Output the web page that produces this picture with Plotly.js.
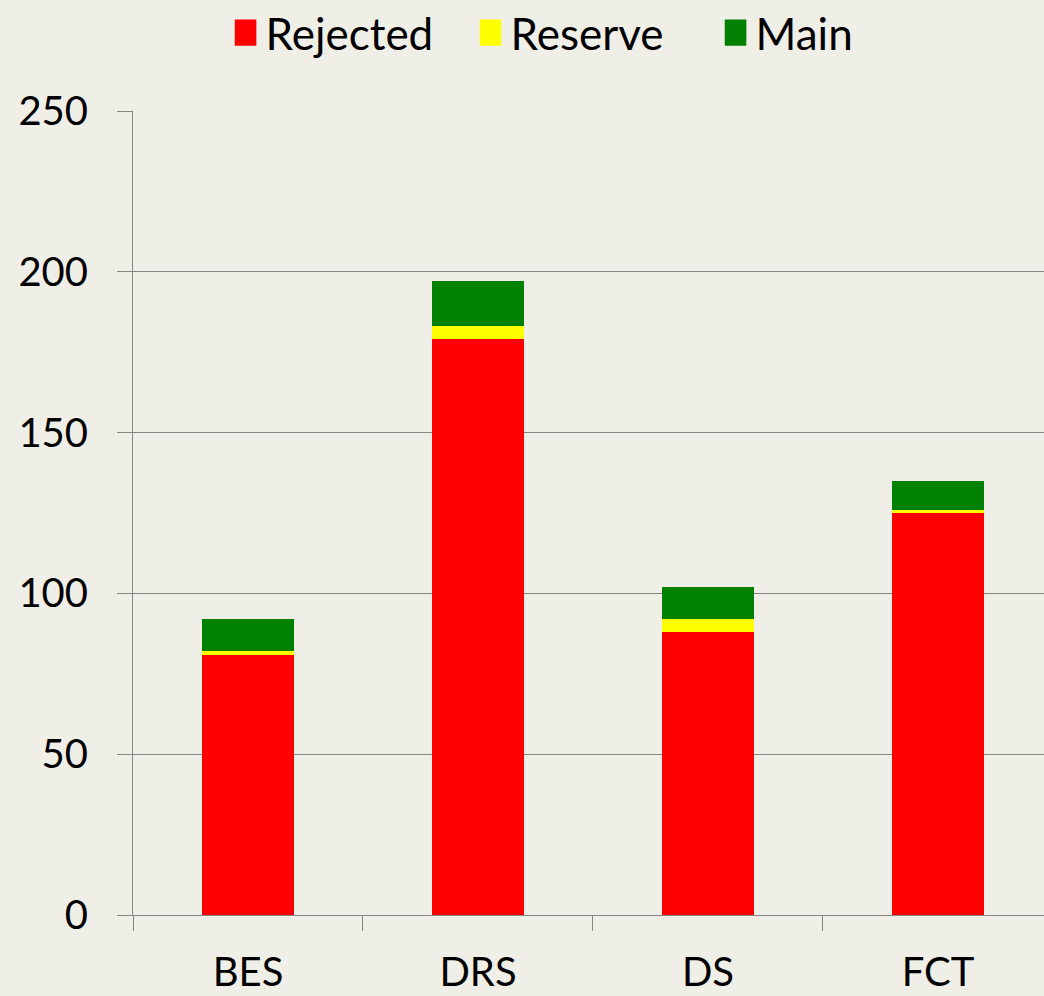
<!DOCTYPE html>
<html><head><meta charset="utf-8">
<script src="https://cdn.plot.ly/plotly-3.0.1.min.js"></script>
<style>html,body{margin:0;padding:0;background:#efeee7}</style>
</head><body>
<div id="chart" style="width:1044px;height:996px"></div>
<script>
const categories = ["BES", "DRS", "DS", "FCT"];
const rejected = [81, 179, 88, 125];
const reserve = [1, 4, 4, 1];
const main = [10, 14, 10, 9];
const yTicks = [0, 50, 100, 150, 200, 250];

const font = {family: "Lato, 'Open Sans', sans-serif", size: 40, color: "#000"};
const mk = (name, y, color) => ({type: "bar", name, x: categories, y, marker: {color}, width: 0.396});
const data = [
  mk("Rejected", rejected, "#ff0000"),
  mk("Reserve", reserve, "#ffff00"),
  mk("Main", main, "#008000")
];
const layout = {
  width: 1044, height: 996,
  barmode: "stack",
  paper_bgcolor: "#efeee7", plot_bgcolor: "#efeee7",
  margin: {l: 133, r: 0, t: 111, b: 81, autoexpand: false},
  font: font,
  showlegend: true,
  legend: {orientation: "h", x: 0.505, xanchor: "center", xref: "paper", y: 1.097, yref: "paper", yanchor: "middle",
           font: {family: font.family, size: 44, color: "#000"}, itemwidth: 30, traceorder: "normal",
           entrywidth: 200, entrywidthmode: "pixels"},
  xaxis: {
    type: "category", range: [-0.5, 3.461], autorange: false,
    tickson: "boundaries", ticks: "outside", ticklen: 15, tickcolor: "#868686",
    showline: true, linecolor: "#868686", linewidth: 1, showgrid: false,
    tickfont: font, ticklabelstandoff: 22
  },
  yaxis: {
    range: [0, 250], autorange: false, tickvals: yTicks,
    ticks: "outside", ticklen: 15, tickcolor: "#868686",
    showline: true, linecolor: "#868686", linewidth: 1,
    showgrid: true, gridcolor: "#868686", gridwidth: 1, zeroline: false,
    tickfont: font, ticklabelstandoff: 21
  }
};
function enlargeLegendSymbols(gd) {
  gd.querySelectorAll('.legend .legendpoints path').forEach(p => {
    if (p.dataset.origTransform === undefined) {
      p.dataset.origTransform = p.getAttribute('transform') || '';
    }
    p.setAttribute('transform', p.dataset.origTransform + ' scale(1.8,2.2)');
  });
}
Plotly.newPlot("chart", data, layout, {displayModeBar: false}).then(gd => {
  enlargeLegendSymbols(gd);
  gd.on('plotly_afterplot', () => enlargeLegendSymbols(gd));
});
</script>
</body></html>
